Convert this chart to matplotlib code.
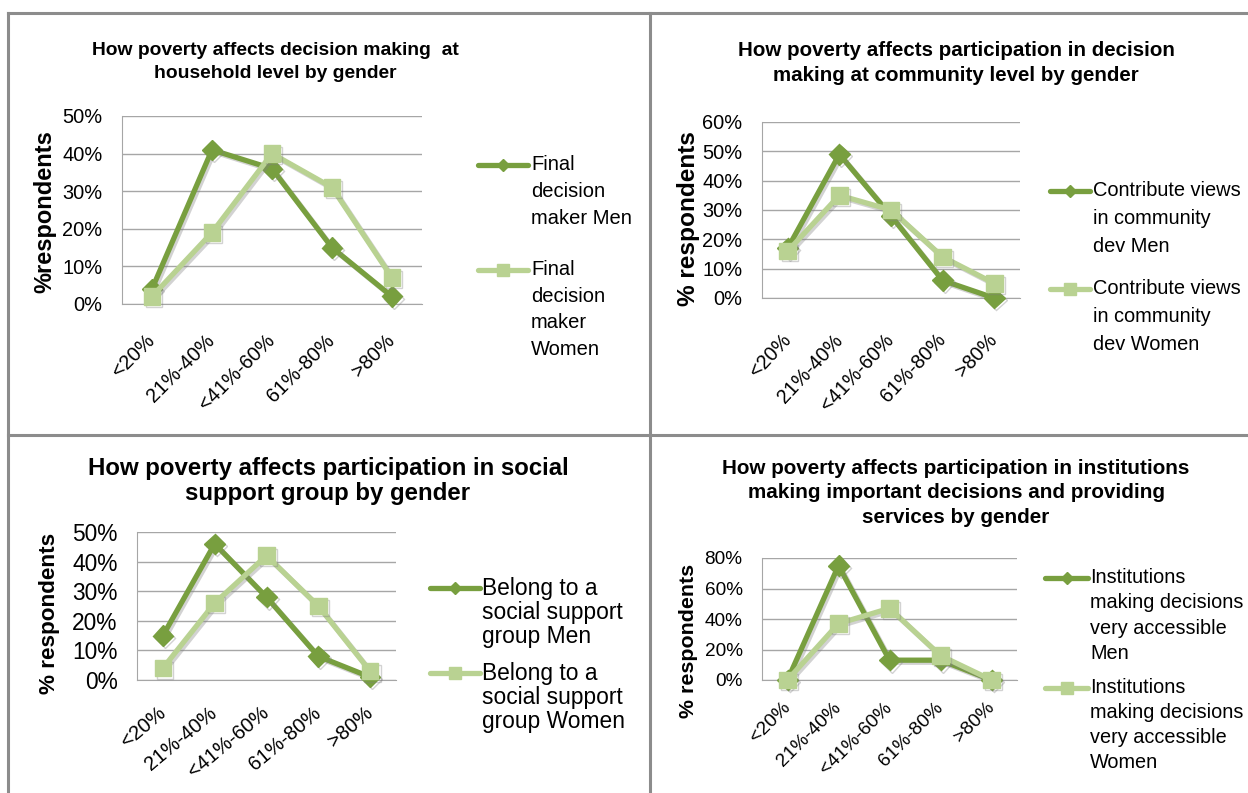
import matplotlib.pyplot as plt
import matplotlib.patheffects as pe
from matplotlib.lines import Line2D
from matplotlib.ticker import FuncFormatter

W, H = 1248, 793

categories = ['<20%', '21%-40%', '<41%-60%', '61%-80%', '>80%']

household_men = [4, 41, 36, 15, 2]
household_women = [2, 19, 40, 31, 7]

community_men = [17, 49, 28, 6, 0]
community_women = [16, 35, 30, 14, 5]

support_men = [15, 46, 28, 8, 1]
support_women = [4, 26, 42, 25, 3]

institution_men = [0, 75, 13, 13, 0]
institution_women = [0, 37, 47, 16, 0]

MEN_COLOR = '#789F3F'
WOMEN_COLOR = '#B9D292'
FRAME = '#8C8C8C'
GRID = '#A6A6A6'

plt.rcParams['font.family'] = ['Liberation Sans', 'DejaVu Sans']

fig = plt.figure(figsize=(W / 100, H / 100), dpi=100)


def px_box(x0, y0, x1, y1):
    return [x0 / W, 1 - y1 / H, (x1 - x0) / W, (y1 - y0) / H]


def fx(x):
    return x / W


def fy(y):
    return 1 - y / H


shadow = [pe.SimpleLineShadow(offset=(1.5, -1.5), shadow_color='#808080', alpha=0.35), pe.Normal()]


def draw_panel(box, men, women, ymax, ystep, rot, ysize, xsize, xpad):
    ax = fig.add_axes(px_box(*box))
    xs = [i + 0.5 for i in range(len(categories))]
    ax.plot(xs, men, color=MEN_COLOR, lw=3.8, marker='D', ms=10.5,
            path_effects=shadow, zorder=3, clip_on=False)
    ax.plot(xs, women, color=WOMEN_COLOR, lw=3.8, marker='s', ms=12,
            path_effects=shadow, zorder=4, clip_on=False)
    ax.set_xlim(0, len(categories))
    ax.set_ylim(0, ymax)
    ax.set_yticks(range(0, ymax + 1, ystep))
    ax.yaxis.set_major_formatter(FuncFormatter(lambda v, p: f'{int(v)}%'))
    ax.set_xticks(xs)
    ax.set_xticklabels(categories, rotation=rot, ha='right', va='center',
                       rotation_mode='anchor', fontsize=xsize)
    ax.tick_params(axis='both', length=0)
    ax.tick_params(axis='y', pad=14, labelsize=ysize)
    ax.tick_params(axis='x', pad=xpad)
    ax.grid(axis='y', color=GRID, lw=1)
    ax.set_axisbelow(True)
    for s in ['top', 'right']:
        ax.spines[s].set_visible(False)
    ax.spines['left'].set_color(GRID)
    ax.spines['bottom'].set_color(GRID)
    return ax


def legend_entry(x0, x1, y_first, y_last, text, color, marker, ms, tx, size, ls):
    fig.add_artist(Line2D([fx(x0), fx(x1)], [fy(y_first), fy(y_first)], color=color,
                          lw=3.8, solid_capstyle='round', transform=fig.transFigure))
    fig.add_artist(Line2D([fx((x0 + x1) / 2)], [fy(y_first)], color=color, marker=marker,
                          ms=ms, transform=fig.transFigure))
    fig.text(fx(tx), fy((y_first + y_last) / 2), text, ha='left', va='center',
             fontsize=size, linespacing=ls)


def title(cx, cy, text, size, ls):
    fig.text(fx(cx), fy(cy), text, ha='center', va='center', fontsize=size,
             fontweight='bold', linespacing=ls)


def ylabel(x, y, text, size):
    fig.text(fx(x), fy(y), text, rotation=90, ha='center', va='center',
             fontsize=size, fontweight='bold')


# panel frames
for xs_, ys_ in [([8, W], [13, 13]), ([8, 8], [13, H]), ([650, 650], [13, H]),
                 ([8, W], [435, 435])]:
    fig.add_artist(Line2D([fx(v) for v in xs_], [fy(v) for v in ys_],
                          color=FRAME, lw=2.2, transform=fig.transFigure))

# household level
draw_panel((122, 116, 422, 304), household_men, household_women, 50, 10, 45, 14.4, 14.4, 24)
title(275, 62, 'How poverty affects decision making  at\nhousehold level by gender', 13.9, 1.5)
ylabel(45, 212, '%respondents', 17)
legend_entry(478, 528, 165, 218, 'Final\ndecision\nmaker Men', MEN_COLOR, 'D', 6.5, 531, 14.5, 1.52)
legend_entry(478, 528, 270, 349, 'Final\ndecision\nmaker\nWomen', WOMEN_COLOR, 's', 8, 531, 14.5, 1.52)

# community level
draw_panel((762, 122, 1020, 298), community_men, community_women, 60, 10, 47, 14.4, 14.2, 28)
title(956, 63, 'How poverty affects participation in decision\nmaking at community level by gender', 14.8, 1.45)
ylabel(688, 219, '% respondents', 17.6)
legend_entry(1050, 1090, 191, 246, 'Contribute views\nin community\ndev Men', MEN_COLOR, 'D', 6.5, 1093, 14.4, 1.6)
legend_entry(1050, 1090, 289, 344, 'Contribute views\nin community\ndev Women', WOMEN_COLOR, 's', 8, 1093, 14.4, 1.6)

# social support group
draw_panel((137, 532, 396, 680), support_men, support_women, 50, 10, 40, 16.4, 14.5, 22)
title(328, 481, 'How poverty affects participation in social\nsupport group by gender', 17.3, 1.13)
ylabel(50, 613, '% respondents', 16.2)
legend_entry(430, 480, 588, 637, 'Belong to a\nsocial support\ngroup Men', MEN_COLOR, 'D', 6.5, 482, 16.4, 1.08)
legend_entry(430, 480, 673, 722, 'Belong to a\nsocial support\ngroup Women', WOMEN_COLOR, 's', 8, 482, 16.4, 1.08)

# institutions
draw_panel((762, 558, 1017, 680), institution_men, institution_women, 80, 20, 45, 13.7, 13.8, 18)
title(956, 493, 'How poverty affects participation in institutions\n'
      'making important decisions and providing\nservices by gender', 14.9, 1.36)
ylabel(688, 641, '% respondents', 15.4)
legend_entry(1045, 1088, 578, 653, 'Institutions\nmaking decisions\nvery accessible\nMen', MEN_COLOR, 'D', 6.5, 1090, 14.3, 1.42)
legend_entry(1045, 1088, 688, 762, 'Institutions\nmaking decisions\nvery accessible\nWomen', WOMEN_COLOR, 's', 8, 1090, 14.3, 1.42)

fig.savefig('out.png', dpi=100)
